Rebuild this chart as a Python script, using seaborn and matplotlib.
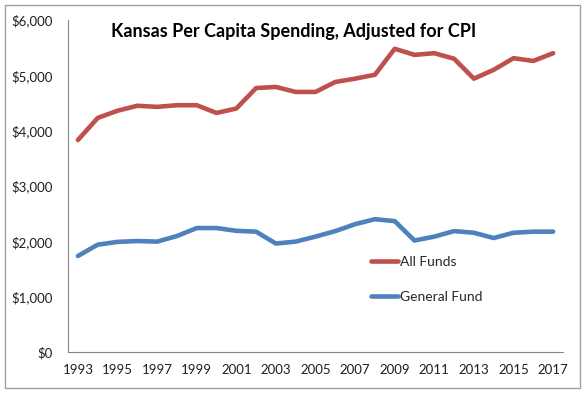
import seaborn as sns
import pandas as pd
import matplotlib
matplotlib.use("Agg")
import matplotlib.pyplot as plt
from matplotlib.patches import Rectangle
from matplotlib.ticker import FuncFormatter

years = list(range(1993, 2018))
all_funds = [3830, 4230, 4360, 4450, 4430, 4460, 4460, 4320, 4400, 4770, 4790, 4700, 4700,
             4880, 4940, 5010, 5480, 5370, 5400, 5300, 4940, 5100, 5310, 5260, 5400]
general_fund = [1735, 1940, 1990, 2005, 1995, 2095, 2240, 2240, 2190, 2175, 1960, 1995, 2085,
                2185, 2310, 2400, 2365, 2015, 2085, 2185, 2155, 2060, 2155, 2175, 2175]

df = pd.DataFrame({'Year': years, 'All Funds': all_funds, 'General Fund': general_fund})
df = df.melt(id_vars='Year', var_name='Series', value_name='Spending')

sns.set_style("white")
plt.rcParams['font.family'] = ['Lato', 'DejaVu Sans']

fig = plt.figure(figsize=(5.86, 3.94), dpi=100)
ax = fig.add_axes([68 / 586, 1 - 352 / 394, 495 / 586, 332 / 394])

sns.lineplot(data=df, x='Year', y='Spending', hue='Series',
             palette={'All Funds': '#C0504D', 'General Fund': '#4F81BD'},
             linewidth=3.3, ax=ax, legend=False)
for line in ax.lines:
    line.set_solid_capstyle('round')
    line.set_solid_joinstyle('round')

ax.set_xlim(1992.5, 2017.5)
ax.set_ylim(0, 6000)
ax.set_xticks(years[::2])
ax.set_xticks([y - 0.5 for y in years] + [2017.5], minor=True)
ax.set_yticks(range(0, 6001, 1000))
ax.yaxis.set_major_formatter(FuncFormatter(lambda v, p: f'${v:,.0f}'))
ax.tick_params(axis='x', which='major', length=0, pad=9, labelsize=9.5, labelcolor='#202020')
ax.tick_params(axis='x', which='minor', length=4, width=0.8, color='#868686', direction='out')
ax.tick_params(axis='y', length=4, width=0.8, color='#868686', direction='out', pad=7,
               labelsize=9.5, labelcolor='#202020')
ax.set_xlabel('')
ax.set_ylabel('')
for side in ['top', 'right']:
    ax.spines[side].set_visible(False)
for side in ['left', 'bottom']:
    ax.spines[side].set_color('#868686')
    ax.spines[side].set_linewidth(0.8)

ax.text(0.455, 0.965, 'Kansas Per Capita Spending, Adjusted for CPI', transform=ax.transAxes,
        ha='center', va='center', fontsize=13, fontweight='bold', color='black')

handles = [plt.Line2D([], [], color='#C0504D', linewidth=3.3, solid_capstyle='round'),
           plt.Line2D([], [], color='#4F81BD', linewidth=3.3, solid_capstyle='round')]
ax.legend(handles, ['All Funds', 'General Fund'], loc='upper left',
          bbox_to_anchor=(0.6, 0.305), frameon=False, fontsize=10,
          handlelength=2.0, handletextpad=0.1, labelspacing=1.6, borderaxespad=0)

fig.add_artist(Rectangle((5 / 586, 1 - 388 / 394), 575 / 586, 383 / 394,
                         transform=fig.transFigure, fill=False, edgecolor='#A0A0A0', linewidth=1))

fig.savefig('out.png', dpi=100)
